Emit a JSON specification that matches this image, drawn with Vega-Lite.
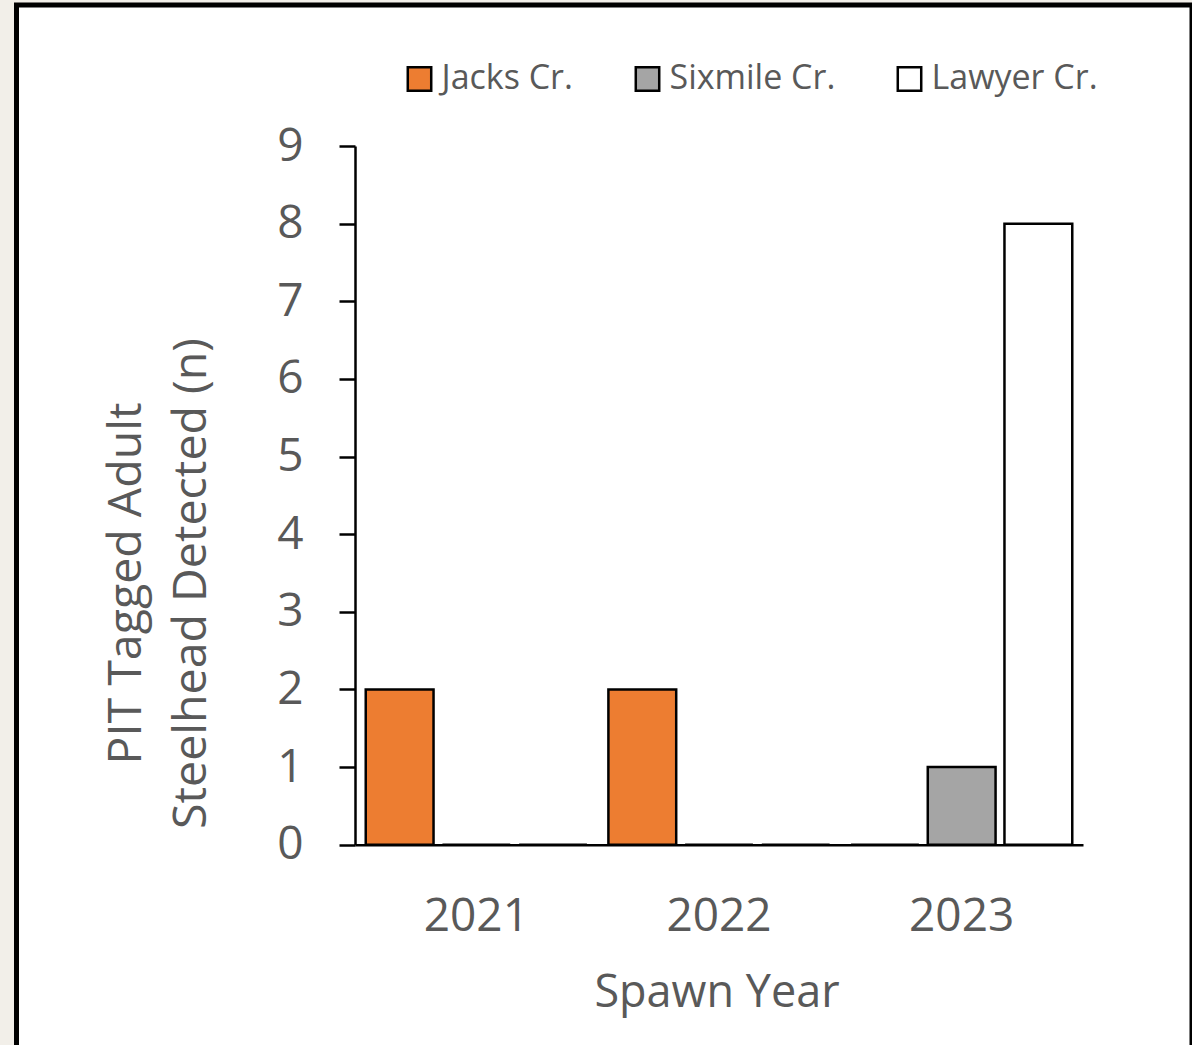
{
  "$schema": "https://vega.github.io/schema/vega-lite/v6.json",
  "autosize": "none",
  "padding": {"left": 16.5, "top": 5, "right": 0, "bottom": 0},
  "width": 1175.5,
  "height": 1050,
  "background": "#f2efe9",
  "data": {
    "values": [
      {"year": "2021", "creek": "Jacks Cr.", "count": 2},
      {"year": "2021", "creek": "Sixmile Cr.", "count": 0},
      {"year": "2021", "creek": "Lawyer Cr.", "count": 0},
      {"year": "2022", "creek": "Jacks Cr.", "count": 2},
      {"year": "2022", "creek": "Sixmile Cr.", "count": 0},
      {"year": "2022", "creek": "Lawyer Cr.", "count": 0},
      {"year": "2023", "creek": "Jacks Cr.", "count": 0},
      {"year": "2023", "creek": "Sixmile Cr.", "count": 1},
      {"year": "2023", "creek": "Lawyer Cr.", "count": 8}
    ]
  },
  "mark": {"type": "bar", "stroke": "black", "strokeWidth": 2.5, "strokeJoin": "miter"},
  "encoding": {
    "x": {
      "field": "year",
      "type": "nominal",
      "scale": {"range": [338.5, 1066.5], "paddingInner": 0, "paddingOuter": 0},
      "axis": {
        "title": "Spawn Year",
        "orient": "bottom",
        "offset": -210.3,
        "labelAngle": 0,
        "ticks": false,
        "tickSize": 0,
        "labelBaseline": "alphabetic",
        "labelPadding": 86,
        "labelFontSize": 46,
        "labelColor": "#595959",
        "labelFont": "Open Sans",
        "domainColor": "black",
        "domainWidth": 2.5,
        "titleFont": "Open Sans",
        "titleFontSize": 45,
        "titleFontWeight": "normal",
        "titleColor": "#595959",
        "titleBaseline": "alphabetic",
        "titleX": 700,
        "titleY": 162
      }
    },
    "xOffset": {
      "field": "creek",
      "type": "nominal",
      "sort": ["Jacks Cr.", "Sixmile Cr.", "Lawyer Cr."],
      "scale": {"paddingInner": 0.116, "paddingOuter": 0.14}
    },
    "y": {
      "field": "count",
      "type": "quantitative",
      "scale": {"domain": [0, 9], "range": [839.7, 141], "nice": false, "zero": true},
      "axis": {
        "title": ["PIT Tagged Adult", "Steelhead Detected (n)"],
        "orient": "left",
        "offset": -338.5,
        "values": [0, 1, 2, 3, 4, 5, 6, 7, 8, 9],
        "grid": false,
        "tickSize": 16,
        "tickWidth": 2.5,
        "tickColor": "black",
        "domainColor": "black",
        "domainWidth": 2.5,
        "labelPadding": 36,
        "labelFontSize": 46,
        "labelColor": "#595959",
        "labelFont": "Open Sans",
        "titleFont": "Open Sans",
        "titleFontSize": 46.5,
        "titleFontWeight": "normal",
        "titleColor": "#595959",
        "titleAngle": -90,
        "titleAlign": "center",
        "titleBaseline": "alphabetic",
        "titleLineHeight": 65,
        "titleX": -215,
        "titleY": 578
      }
    },
    "fill": {
      "field": "creek",
      "type": "nominal",
      "sort": ["Jacks Cr.", "Sixmile Cr.", "Lawyer Cr."],
      "scale": {
        "domain": ["Jacks Cr.", "Sixmile Cr.", "Lawyer Cr."],
        "range": ["#ED7D31", "#A5A5A5", "#FFFFFF"]
      },
      "legend": {
        "title": null,
        "orient": "none",
        "direction": "horizontal",
        "legendX": 386,
        "legendY": 57,
        "padding": 0,
        "symbolType": "square",
        "symbolSize": 550,
        "symbolStrokeColor": "black",
        "symbolStrokeWidth": 2.5,
        "symbolOpacity": 1,
        "labelFont": "Open Sans",
        "labelFontSize": 34,
        "labelColor": "#595959",
        "labelOffset": 5,
        "columnPadding": 57,
        "labelLimit": 400
      }
    }
  },
  "config": {
    "view": {"fill": "white", "stroke": "black", "strokeWidth": 5},
    "axis": {"grid": false}
  }
}
